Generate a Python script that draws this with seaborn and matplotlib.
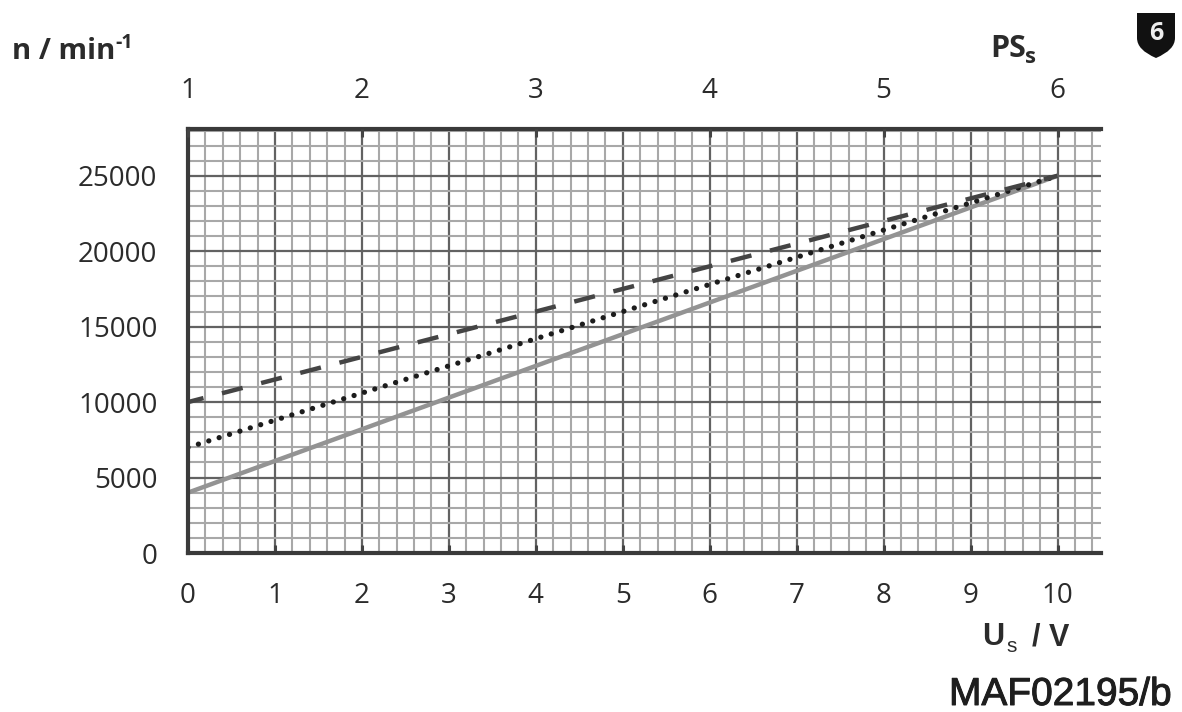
import matplotlib
matplotlib.use('Agg')
import matplotlib.pyplot as plt
from matplotlib.patches import PathPatch
from matplotlib.path import Path
from matplotlib.ticker import MultipleLocator
import matplotlib.patheffects as pe
import pandas as pd
import seaborn as sns

# values
us_volts = [0, 2, 4, 6, 8, 10]
n_dashed = [10000, 13000, 16000, 19000, 22000, 25000]
n_dotted = [7000, 10600, 14200, 17800, 21400, 25000]
n_solid = [4000, 8200, 12400, 16600, 20800, 25000]
bottom_ticks = list(range(0, 11))
left_ticks = [0, 5000, 10000, 15000, 20000, 25000]
top_ticks = [1, 2, 3, 4, 5, 6]

W, H = 1182, 712
TXT = '#2b2b2b'

sns.set_theme(style='white')
plt.rcParams['font.family'] = ['Open Sans', 'DejaVu Sans']

curves = pd.concat([
    pd.DataFrame({'Us': us_volts, 'n': n_dashed, 'curve': 'dashed'}),
    pd.DataFrame({'Us': us_volts, 'n': n_dotted, 'curve': 'dotted'}),
    pd.DataFrame({'Us': us_volts, 'n': n_solid, 'curve': 'solid'}),
])

fig = plt.figure(figsize=(W / 100, H / 100), dpi=100)
ax = fig.add_axes([188 / W, 1 - 553 / H, (1101 - 188) / W, (553 - 129) / H])

# graph paper grid
ax.set_xlim(0, 10.5)
ax.set_ylim(0, 28100)
ax.set_xticks(bottom_ticks)
ax.set_yticks(left_ticks)
ax.xaxis.set_minor_locator(MultipleLocator(0.2))
ax.yaxis.set_minor_locator(MultipleLocator(1000))
ax.grid(which='minor', color='#a8a8a8', lw=1.5)
ax.grid(which='major', color='#626262', lw=1.6)
ax.set_axisbelow(True)

sns.lineplot(data=curves[curves['curve'] == 'solid'], x='Us', y='n', ax=ax,
             color='#939393', lw=3.2, solid_capstyle='butt', errorbar=None)
sns.lineplot(data=curves[curves['curve'] == 'dotted'], x='Us', y='n', ax=ax,
             color='#1c1c1c', lw=3.8, linestyle=(0, (0.01, 2.05)), dash_capstyle='round',
             errorbar=None)
sns.lineplot(data=curves[curves['curve'] == 'dashed'], x='Us', y='n', ax=ax,
             color='#444444', lw=3.2, linestyle=(1.2, (4.8, 4.3)), errorbar=None)

ax.set_xlabel('')
ax.set_ylabel('')
ax.tick_params(which='major', direction='in', length=6, width=2.2, color='#444444',
               labelsize=20, labelcolor=TXT, pad=22)
ax.tick_params(axis='x', which='major', pad=21)
ax.tick_params(which='minor', length=0)

for side in ['left', 'top', 'bottom']:
    ax.spines[side].set_color('#3a3a3a')
    ax.spines[side].set_linewidth(3)
ax.spines['right'].set_visible(False)

# PS scale on top
top = ax.twiny()
top.set_xlim(1, 1 + 10.5 / 2)
top.set_xticks(top_ticks)
top.tick_params(direction='in', length=6, width=2.2, color='#444444',
                labelsize=20, labelcolor=TXT, pad=17)
for side in top.spines:
    top.spines[side].set_visible(False)


def label(x, y, s, **kw):
    kw.setdefault('color', TXT)
    kw.setdefault('va', 'baseline')
    return fig.text(x / W, 1 - y / H, s, **kw)


label(12, 59, 'n / min', fontsize=21, fontweight='bold')
label(115, 48, '-1', fontsize=14, fontweight='bold')
label(990, 57, 'PS', fontsize=22, fontweight='bold')
label(1025, 63, 's', fontsize=16, fontweight='bold')
label(982, 645, 'U', fontsize=22, fontweight='bold', family='Liberation Sans')
label(1006, 652, 's', fontsize=15, family='Liberation Sans')
label(1032, 645, '/ V', fontsize=22, fontweight='bold', family='Liberation Sans')
maf = label(949, 705, 'MAF02195/b', fontsize=28, family='Liberation Sans', color='#1e1e1e')
maf.set_path_effects([pe.withStroke(linewidth=0.7, foreground='#1e1e1e')])

# badge in the corner
def px(x, y):
    return (x / W, 1 - y / H)


shield = Path(
    [px(1137, 13), px(1175, 13), px(1175, 38), px(1175, 50), px(1156, 58),
     px(1137, 50), px(1137, 38), px(1137, 13)],
    [Path.MOVETO, Path.LINETO, Path.LINETO, Path.CURVE3, Path.CURVE3,
     Path.CURVE3, Path.CURVE3, Path.CLOSEPOLY])
fig.add_artist(PathPatch(shield, facecolor='#111111', edgecolor='none',
                         transform=fig.transFigure))
label(1156, 33, '6', fontsize=18, fontweight='bold', color='#eeeeee', ha='center', va='center')

fig.savefig('out.png', dpi=100)
